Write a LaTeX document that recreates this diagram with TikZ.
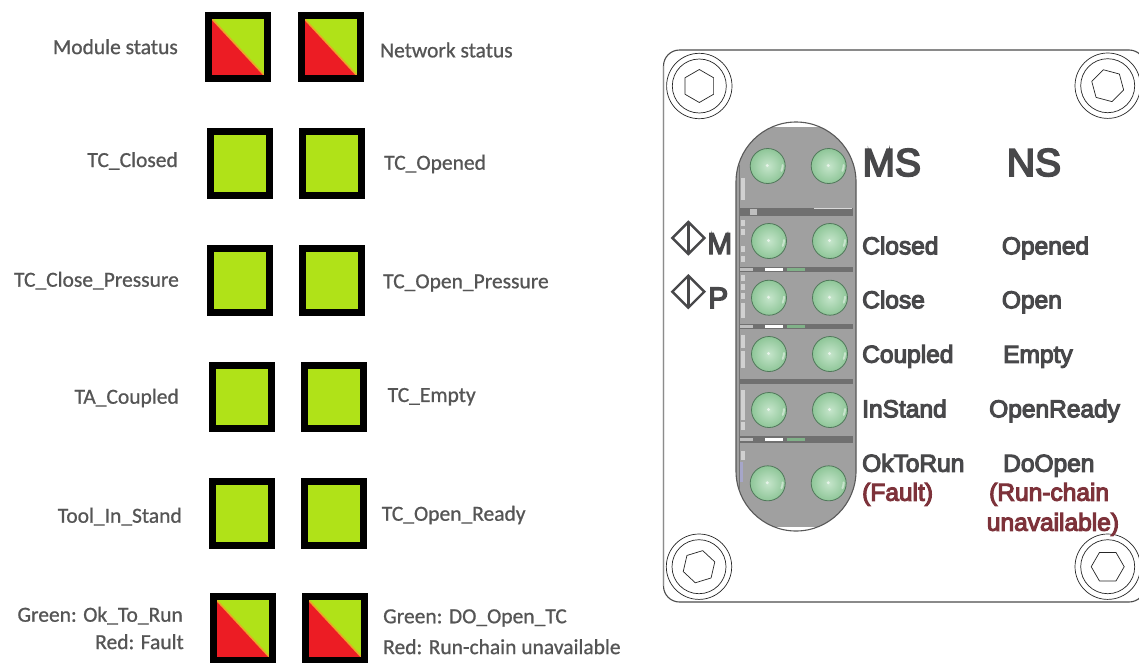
\documentclass[tikz,border=0pt]{standalone}
\usepackage{fontspec}
\setmainfont[FakeBold=0.8]{Carlito}
\newfontfamily\arl[FakeBold=4.5]{Liberation Sans}
\usetikzlibrary{calc}
\definecolor{lime}{RGB}{176,226,24}
\definecolor{rd}{RGB}{236,28,36}
\definecolor{org}{RGB}{235,165,40}
\definecolor{txt}{RGB}{85,85,85}
\definecolor{lab}{RGB}{72,72,74}
\definecolor{redl}{RGB}{125,50,58}
\definecolor{plate}{RGB}{160,160,160}
\definecolor{band}{RGB}{112,112,112}
\definecolor{led}{RGB}{150,208,160}
\definecolor{ledr}{RGB}{80,120,90}
\tikzset{x=1pt,y=-1pt,
 lbl/.style={font=\fontsize{21.5}{24}\selectfont,text=txt,inner sep=0pt},
 plt/.style={font=\arl\fontsize{24.5}{28}\selectfont,text=lab,inner sep=0pt,anchor=base west},
 big/.style={font=\arl\fontsize{39}{42}\selectfont,text=lab,inner sep=0pt,anchor=base west},
 sym/.style={font=\arl\fontsize{30}{32}\selectfont,text=lab,inner sep=0pt,anchor=base west},
 rlb/.style={font=\arl\fontsize{24.5}{28}\selectfont,text=redl,inner sep=0pt,anchor=base west},
 bx/.style={draw=black,line width=7pt,fill=lime,rectangle,minimum width=59pt,minimum height=63.6pt,inner sep=0pt,outer sep=0pt,anchor=north west},
 ledn/.style={circle,draw=ledr,line width=0.8pt,inner sep=0pt,outer sep=0pt,minimum size=35pt,inner color=led!55!white,outer color=led!95!black},
 scr/.style={draw=black!85,line width=0.7pt}
}
\newcommand{\gbox}[3]{\node[bx] (#1) at (#2+3.5,#3+3.5) {};}
\newcommand{\rbox}[3]{%
  \node[bx] (#1) at (#2+3.5,#3+3.5) {};
  \fill[rd] (#1.north west) -- (#1.south west) -- (#1.south east) -- cycle;
  \draw[org,line width=1.6pt] (#1.north west) -- (#1.south east);
  \draw[black,line width=7pt] (#1.north west) rectangle (#1.south east);
}
\newcommand{\screw}[3]{%
  \begin{scope}[shift={(#1,#2)}]
  \fill[white] (0,0) circle (32.7);
  \draw[scr] (0,0) circle (32.7);
  \draw[scr] (0,0) circle (27);
  \draw[scr,line join=round] (#3:16.5) -- (#3+60:16.5) -- (#3+120:16.5) -- (#3+180:16.5) -- (#3+240:16.5) -- (#3+300:16.5) -- cycle;
  \end{scope}
}
\newcommand{\ledat}[3]{%
  \node[ledn] (#1) at (#2,#3) {};
  \fill[white,opacity=.6] (#2-.5,#3-.5) circle (1.6);
  \draw[white,opacity=.45,line width=2pt,line cap=round] (#2+15,#3-1) arc[start angle=0,end angle=25,radius=14];
}
\newcommand{\diamondmark}[3]{%
  \coordinate (#1) at (#2,#3);
  \draw[draw=lab,line width=2.4pt,line join=miter] (#2-16,#3) -- (#2,#3-16) -- (#2+16,#3) -- (#2,#3+16) -- cycle;
  \draw[draw=lab,line width=2.4pt] (#2,#3-16) -- (#2,#3+16);
}
\newcommand{\bandat}[2]{\fill[band] (739.5,#1) rectangle (852.5,#2);}
\newcommand{\stripes}[1]{%
  \fill[black!25] (740,#1) rectangle (753,#1+3);
  \fill[white] (765,#1) rectangle (783,#1+3);
  \fill[led!85!black] (787,#1) rectangle (805,#1+3);
}
\begin{document}
\begin{tikzpicture}
\useasboundingbox[fill=white] (0,0) rectangle (1139,662);
% left boxes
\rbox{a1}{205}{11.7}\rbox{b1}{297.5}{11.7}
\gbox{a2}{207}{128}\gbox{b2}{299}{128}
\gbox{a3}{207}{245}\gbox{b3}{299}{245}
\gbox{a4}{208.5}{361.7}\gbox{b4}{300.5}{361.7}
\gbox{a5}{208.5}{478.3}\gbox{b5}{301}{478.3}
\rbox{a6}{210}{593.3}\rbox{b6}{302}{593.3}
\node[lbl,anchor=east] (la1) at (178,46.7) {Module status};
\node[lbl,anchor=west] (lb1) at (380,50) {Network status};
\node[lbl,anchor=east] (la2) at (178,161) {TC\_Closed};
\node[lbl,anchor=west] (lb2) at (384,164) {TC\_Opened};
\node[lbl,anchor=east] (la3) at (179,280.7) {TC\_Close\_Pressure};
\node[lbl,anchor=west] (lb3) at (383,283) {TC\_Open\_Pressure};
\node[lbl,anchor=east] (la4) at (179,398) {TA\_Coupled};
\node[lbl,anchor=west] (lb4) at (387.5,396.7) {TC\_Empty};
\node[lbl,anchor=east] (la5) at (182,516.7) {Tool\_In\_Stand};
\node[lbl,anchor=west] (lb5) at (381.6,515) {TC\_Open\_Ready};
\node[lbl,anchor=east] (la6) at (183,615.7) {Green: Ok\_To\_Run};
\node[lbl,anchor=east] (la7) at (184,641.7) {Red: Fault};
\node[lbl,anchor=west] (lb6) at (383,618) {Green: DO\_Open\_TC};
\node[lbl,anchor=west] (lb7) at (383,646.7) {Red: Run-chain unavailable};
% plate
\draw[draw=black!70,line width=1.1pt,rounded corners=16pt] (663.5,50) rectangle (1145,602);
\draw[draw=black!45,line width=1.6pt] (663.5,66) -- (663.5,586);
\screw{699.3}{86}{90}
\screw{1107.7}{85.7}{75}
\screw{699}{566.7}{103}
\screw{1107.7}{566.7}{0}
% pill
\fill[plate,rounded corners=60pt] (736,122) rectangle (856,531);
\begin{scope}
\clip (700,110) rectangle (900,126);
\fill[white,rounded corners=60pt] (736,122) rectangle (856,531);
\end{scope}
\begin{scope}
\clip (700,527) rectangle (900,540);
\fill[white,rounded corners=60pt] (736,122) rectangle (856,531);
\end{scope}
\bandat{207.7}{215.7}\bandat{266.7}{272.3}\bandat{324}{328.7}\bandat{379.3}{384.3}\bandat{435.7}{442.7}
\fill[black!25] (750,209) rectangle (756.7,214.5);
\fill[black!15] (814,207.7) rectangle (852,209);
\stripes{268}\stripes{325}\stripes{437.5}
% side strip details
\foreach \ya/\yb in {178/200,220/226,229/235,246/252,256/262,275/281,284/290,293/299,303/318,335/348,351/368,390/420,422/430,451/460}
  \fill[black!18] (740.5,\ya) rectangle (744.5,\yb);
\fill[blue!40!black!35] (739.5,462) rectangle (743,482);
\draw[draw=black!65,line width=1.1pt,rounded corners=60pt] (736,122) rectangle (856,531);
\draw[draw=black!55,line width=1pt] (739.3,165) -- (739.3,490);
% LEDs
\ledat{l1}{767.7}{166}\ledat{r1}{828.7}{166}
\ledat{l2}{769}{241}\ledat{r2}{830}{241}
\ledat{l3}{769}{297.7}\ledat{r3}{830}{297.7}
\ledat{l4}{769}{354}\ledat{r4}{830}{354}
\ledat{l5}{769}{410}\ledat{r5}{830}{410}
\ledat{l6}{767.7}{483.3}\ledat{r6}{828.7}{483.3}
% texts
\node[big] (ms) at (862.3,176) {MS};
\node[big] (ns) at (1006.7,176) {NS};
\node[plt] (t1) at (862,254.3) {Closed};
\node[plt] (u1) at (1001.7,254.3) {Opened};
\node[plt] (t2) at (862,308.3) {Close};
\node[plt] (u2) at (1001.7,308.3) {Open};
\node[plt] (t3) at (862,362.7) {Coupled};
\node[plt] (u3) at (1003,362.7) {Empty};
\node[plt] (t4) at (862,417.3) {InStand};
\node[plt] (u4) at (989,417.3) {OpenReady};
\node[plt] (t5) at (862,471.7) {OkToRun};
\node[plt] (u5) at (1003,471.7) {DoOpen};
\node[rlb] (t6) at (862,500.7) {(Fault)};
\node[rlb] (u6) at (989,500.7) {(Run-chain};
\node[rlb] (u7) at (986.7,530.7) {unavailable)};
\diamondmark{d1}{688.3}{238}
\diamondmark{d2}{688.3}{291.7}
\node[sym] (mm) at (707,254) {M};
\node[sym] (pp) at (708,308.3) {P};
\end{tikzpicture}
\end{document}
